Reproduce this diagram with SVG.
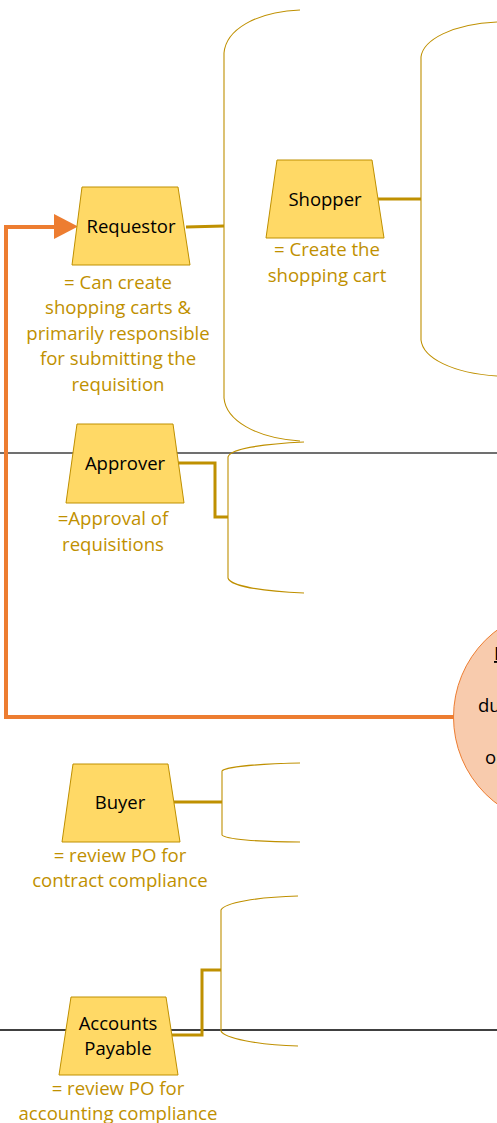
<svg xmlns="http://www.w3.org/2000/svg" width="497" height="1123" viewBox="0 0 497 1123">
<style>
.bg{fill:#ffffff}
.brace{fill:none;stroke:#BF9000;stroke-width:1.1}
.conn{fill:none;stroke:#BF9000;stroke-width:3}
.lane{stroke-width:1.6}
.trap{fill:#FFD966;stroke:#BF9000;stroke-width:1}
.lbl{font-family:"Open Sans","Liberation Sans",sans-serif;font-size:18.5px;fill:#000000;text-anchor:middle}
.sub{font-family:"Open Sans","Liberation Sans",sans-serif;font-size:18.6px;fill:#BF9000;text-anchor:middle}
.ctext{font-family:"Open Sans","Liberation Sans",sans-serif;font-size:18.5px;fill:#000000}
</style>
<rect class="bg" x="0" y="0" width="497" height="1123"/>
<g id="lanes">
<line class="lane" x1="0" y1="453" x2="497" y2="453" stroke="#404040"/>
<line class="lane" x1="0" y1="1030" x2="497" y2="1030" stroke="#000000"/>
</g>
<g id="braces">
<path class="brace" d="M300,10 C255,12 226,30 224,53 L224,398 C226,420 255,438 300,441"/>
<path class="brace" d="M304,442 C262,444 230,449 228,457 L228,578 C230,586 262,591 304,593"/>
<path class="brace" d="M497,22 C452,24 423,40 421,57 L421,340 C423,358 452,373 497,376"/>
<path class="brace" d="M300,763 C257,764 225,767 222,771 L222,835 C225,839 257,842 300,842"/>
<path class="brace" d="M298,896 C257,897 224,903 221,910 L221,1031 C224,1038 257,1045 298,1046"/>
</g>
<g id="circle-node">
<circle cx="562" cy="717" r="108.5" fill="#F8CBAD" stroke="#ED7D31" stroke-width="1"/>
<text class="ctext" x="494" y="660" text-decoration="underline">I</text>
<text class="ctext" x="478" y="712">du</text>
<text class="ctext" x="485" y="764">o</text>
</g>
<g id="connectors">
<path class="conn" d="M186,227 L224,226"/>
<path class="conn" d="M378,199 L421,199"/>
<path class="conn" d="M178,463 L215,463 L215,517 L228,517"/>
<path class="conn" d="M174,802 L222,802"/>
<path class="conn" d="M172,1035 L202,1035 L202,970 L221,970"/>
<path d="M454,717 L6,717 L6,227 L56,227" fill="none" stroke="#ED7D31" stroke-width="4"/>
<path d="M54,214 L78,226.5 L54,239 Z" fill="#ED7D31"/>
</g>
<g id="requestor">
<polygon class="trap" points="82,187 178,187 190,265 72,265"/>
<text class="lbl" x="131" y="233">Requestor</text>
<text class="sub" x="118" y="289">= Can create</text>
<text class="sub" x="118" y="314">shopping carts &amp;</text>
<text class="sub" x="118" y="340">primarily responsible</text>
<text class="sub" x="118" y="365">for submitting the</text>
<text class="sub" x="118" y="391">requisition</text>
</g>
<g id="shopper">
<polygon class="trap" points="277,160 372,160 384,238 266,238"/>
<text class="lbl" x="325" y="206">Shopper</text>
<text class="sub" x="327" y="256">= Create the</text>
<text class="sub" x="327" y="282">shopping cart</text>
</g>
<g id="approver">
<polygon class="trap" points="77,424 173,424 184,503 66,503"/>
<text class="lbl" x="125" y="470">Approver</text>
<text class="sub" x="113" y="525">=Approval of</text>
<text class="sub" x="113" y="551">requisitions</text>
</g>
<g id="buyer">
<polygon class="trap" points="73,764 168,764 180,842 62,842"/>
<text class="lbl" x="120" y="809">Buyer</text>
<text class="sub" x="120" y="862">= review PO for</text>
<text class="sub" x="120" y="887">contract compliance</text>
</g>
<g id="accounts-payable">
<polygon class="trap" points="71,997 166,997 178,1075 59,1075"/>
<text class="lbl" x="118" y="1030">Accounts</text>
<text class="lbl" x="118" y="1055">Payable</text>
<text class="sub" x="118" y="1095">= review PO for</text>
<text class="sub" x="118" y="1120">accounting compliance</text>
</g>
</svg>
